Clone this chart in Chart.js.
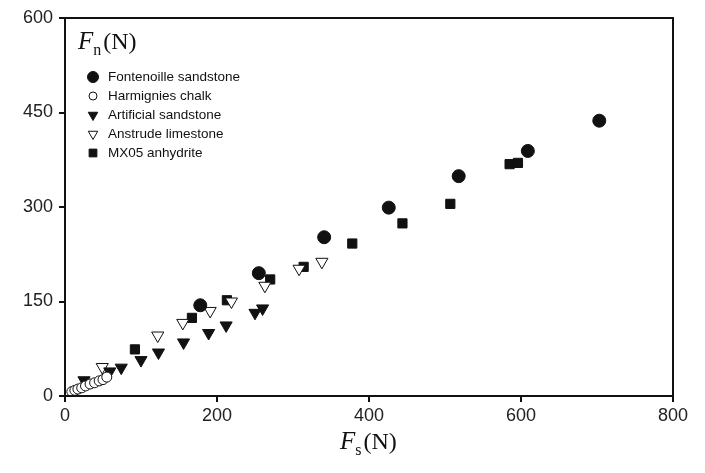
<!DOCTYPE html>
<html>
<head>
<meta charset="utf-8">
<script src="https://cdn.jsdelivr.net/npm/chart.js@4.4.1/dist/chart.umd.min.js"></script>
<style>
  html, body { margin: 0; padding: 0; background: #fff; }
  #wrap { width: 705px; height: 473px; }
</style>
</head>
<body>
<div id="wrap"><canvas id="chart"></canvas></div>
<script>
// values: [Fs, Fn] in N
const fontenoille = [[178, 144], [255, 195], [341, 252], [426, 299], [518, 349], [609, 389], [703, 437]];
const harmignies = [[9, 7], [13, 9], [17, 11], [22, 13], [27, 16], [33, 19], [39, 21], [45, 24], [50, 26], [55, 30]];
const artificial = [[25, 25], [59, 39], [74, 45], [100, 57], [123, 69], [156, 85], [189, 100], [212, 112], [250, 132], [260, 139]];
const anstrude = [[49, 46], [122, 96], [155, 116], [191, 135], [219, 150], [263, 175], [308, 202], [338, 213]];
const mx05 = [[92, 74], [167, 124], [213, 152], [270, 185], [314, 205], [378, 242], [444, 274], [507, 305], [585, 368], [596, 370]];

const xTicks = [0, 200, 400, 600, 800];
const yTicks = [0, 150, 300, 450, 600];

const toPts = arr => arr.map(([x, y]) => ({ x, y }));
const ink = '#111';

const datasets = [
    { label: 'Fontenoille sandstone', data: toPts(fontenoille), pointStyle: 'circle', pointRadius: 6.5, backgroundColor: ink, borderColor: ink, borderWidth: 1, pointRotation: 0 },
    { label: 'Harmignies chalk', data: toPts(harmignies), pointStyle: 'circle', pointRadius: 5, backgroundColor: '#fff', borderColor: ink, borderWidth: 1, pointRotation: 0 },
    { label: 'Artificial sandstone', data: toPts(artificial), pointStyle: 'triangle', pointRadius: 7, backgroundColor: ink, borderColor: ink, borderWidth: 1, pointRotation: 180 },
    { label: 'Anstrude limestone', data: toPts(anstrude), pointStyle: 'triangle', pointRadius: 7, backgroundColor: '#fff', borderColor: ink, borderWidth: 1, pointRotation: 180 },
    { label: 'MX05 anhydrite', data: toPts(mx05), pointStyle: 'rect', pointRadius: 6.5, backgroundColor: ink, borderColor: ink, borderWidth: 1, pointRotation: 0 },
];

// frame, axis titles and the in-plot legend
const decorations = {
    id: 'decorations',
    afterDraw(chart) {
        const { ctx, chartArea: a } = chart;
        ctx.save();
        ctx.strokeStyle = ink;
        ctx.lineWidth = 2;
        ctx.strokeRect(a.left, a.top, a.right - a.left, a.bottom - a.top);

        const drawTitle = (x, y, sub) => {
            ctx.textBaseline = 'alphabetic';
            ctx.textAlign = 'left';
            ctx.fillStyle = ink;
            ctx.font = 'italic 25px "Liberation Serif", "Times New Roman", serif';
            ctx.fillText('F', x, y);
            let w = ctx.measureText('F').width;
            ctx.font = '16px "Liberation Serif", "Times New Roman", serif';
            ctx.fillText(sub, x + w, y + 6);
            w += ctx.measureText(sub).width + 2;
            ctx.font = '24px "Liberation Serif", "Times New Roman", serif';
            ctx.fillText('(N)', x + w, y);
        };
        drawTitle(a.left + 13, a.top + 31, 'n');
        drawTitle((a.left + a.right) / 2 - 29, 449, 's');

        ctx.font = '13.5px "Liberation Sans", Arial, sans-serif';
        ctx.textBaseline = 'middle';
        chart.data.datasets.forEach((ds, i) => {
            const y = a.top + 59 + i * 19;
            const x = a.left + 28;
            ctx.fillStyle = ds.backgroundColor;
            ctx.strokeStyle = ds.borderColor;
            ctx.lineWidth = 1;
            Chart.helpers.drawPoint(ctx, {
                pointStyle: ds.pointStyle,
                rotation: ds.pointRotation,
                radius: Math.min(ds.pointRadius, 6.5) - 1,
                borderWidth: 1
            }, x, y);
            ctx.fillStyle = ink;
            ctx.fillText(ds.label, x + 15, y);
        });
        ctx.restore();
    }
};

new Chart(document.getElementById('chart'), {
    type: 'scatter',
    data: { datasets },
    options: {
        responsive: true,
        maintainAspectRatio: false,
        animation: false,
        layout: { padding: { left: 0, right: 32, top: 18, bottom: 0 } },
        scales: {
            x: {
                type: 'linear',
                min: xTicks[0],
                max: xTicks[xTicks.length - 1],
                afterBuildTicks: scale => { scale.ticks = xTicks.map(v => ({ value: v })); },
                afterFit: scale => { scale.height = 77; },
                border: { display: true, color: ink, width: 2 },
                grid: { drawOnChartArea: false, drawTicks: true, tickLength: 6, color: ink, lineWidth: 2 },
                ticks: { color: '#222', padding: 3, font: { family: '"Liberation Sans", Arial, sans-serif', size: 18 } }
            },
            y: {
                type: 'linear',
                min: yTicks[0],
                max: yTicks[yTicks.length - 1],
                afterBuildTicks: scale => { scale.ticks = yTicks.map(v => ({ value: v })); },
                afterFit: scale => { scale.width = 65; },
                border: { display: true, color: ink, width: 2 },
                grid: { drawOnChartArea: false, drawTicks: true, tickLength: 6, color: ink, lineWidth: 2 },
                ticks: { color: '#222', padding: 6, font: { family: '"Liberation Sans", Arial, sans-serif', size: 18 } }
            }
        },
        plugins: {
            legend: { display: false },
            tooltip: { enabled: false }
        }
    },
    plugins: [decorations]
});
</script>
</body>
</html>
